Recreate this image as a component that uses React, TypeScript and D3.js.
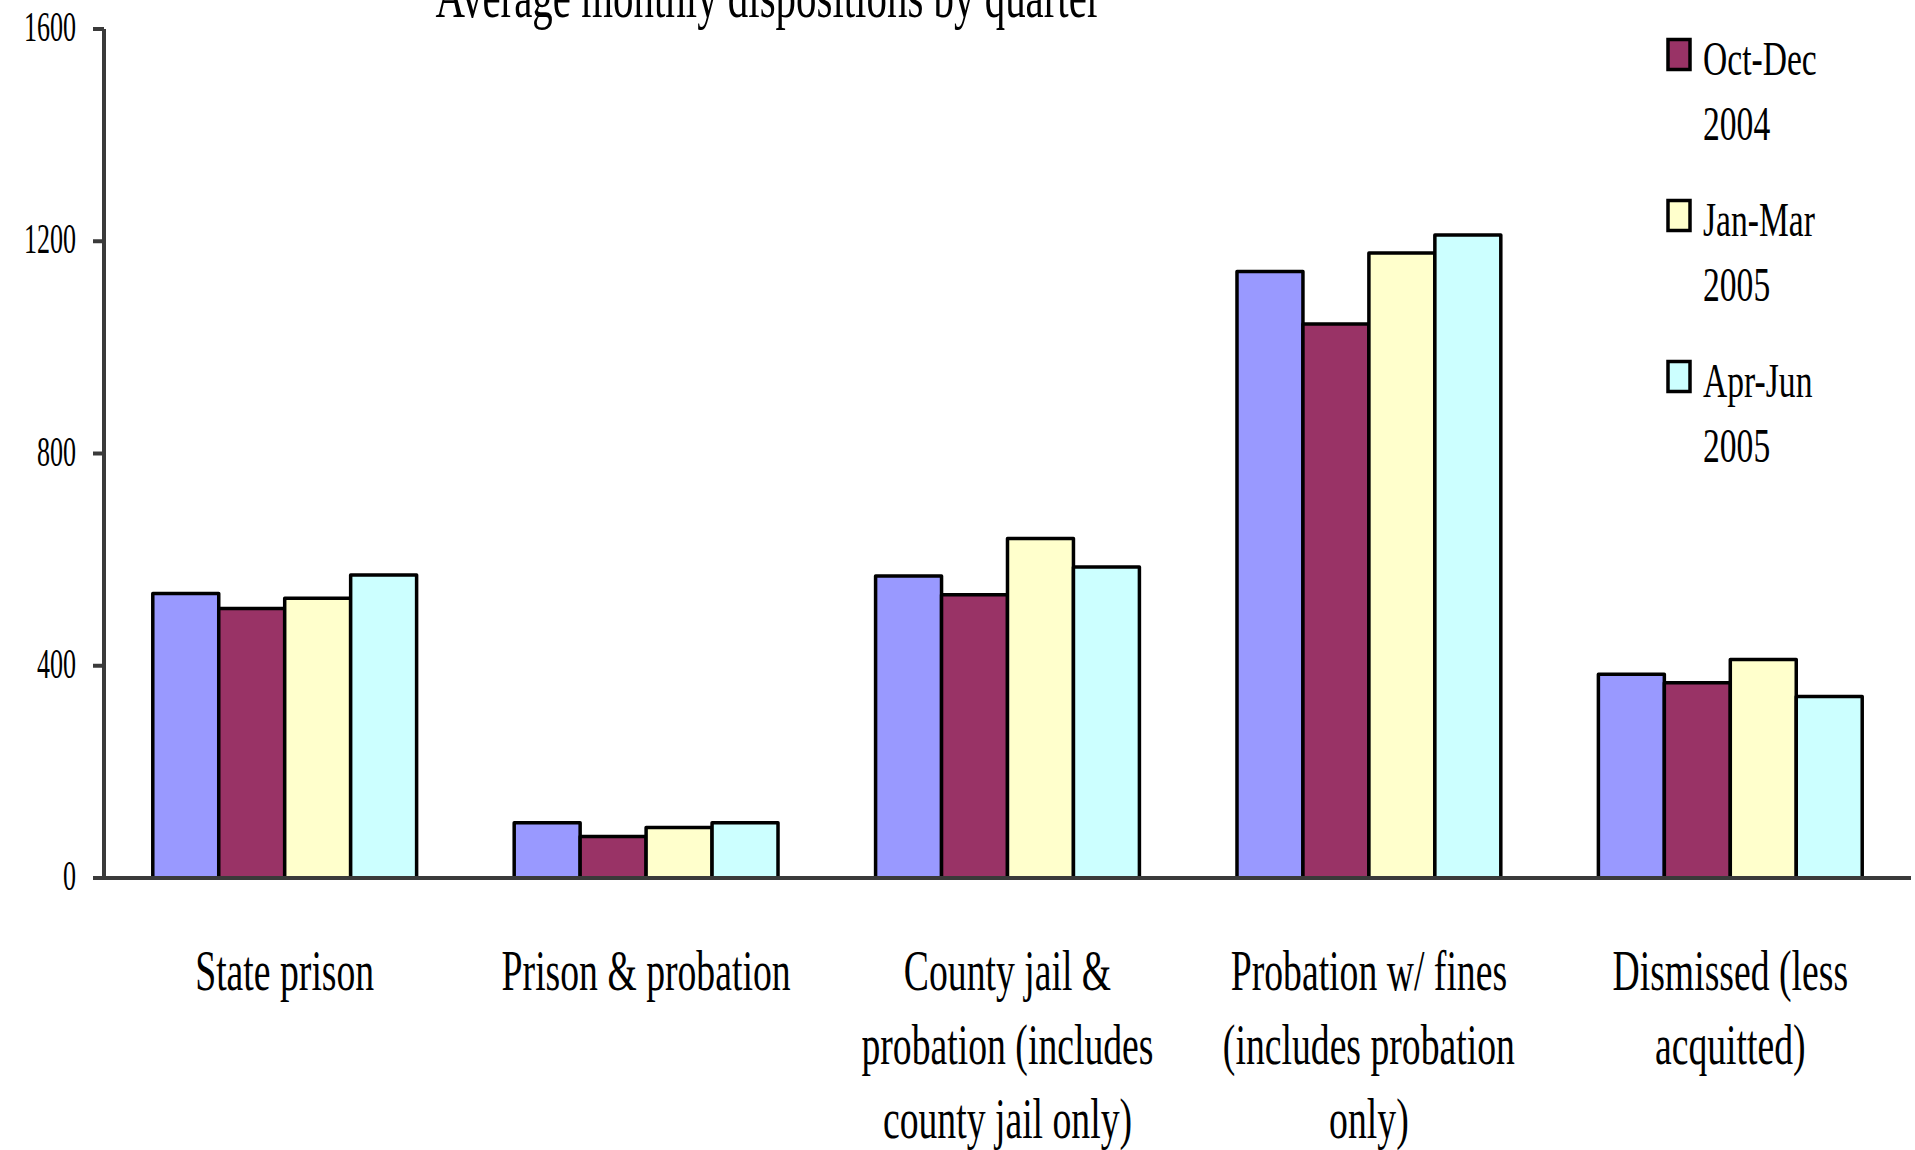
import React from 'react';
import * as d3 from 'd3';

// categories (each label split into its wrapped lines)
const categoryLines: string[][] = [
  ['State prison'],
  ['Prison & probation'],
  ['County jail &', 'probation (includes', 'county jail only)'],
  ['Probation w/ fines', '(includes probation', 'only)'],
  ['Dismissed (less', 'acquitted)'],
];
const categories = categoryLines.map(l => l.join(' '));

const seriesNames = ['Jul-Sep 2004', 'Oct-Dec 2004', 'Jan-Mar 2005', 'Apr-Jun 2005'];
const seriesColors = ['#9999FF', '#993366', '#FFFFCC', '#CCFFFF'];

const julSep2004 = [536, 104, 569, 1143, 384];
const octDec2004 = [508, 78, 534, 1044, 368];
const janMar2005 = [527, 95, 640, 1178, 412];
const aprJun2005 = [571, 104, 586, 1212, 342];
const seriesValues = [julSep2004, octDec2004, janMar2005, aprJun2005];

const yTicks = [0, 400, 800, 1200, 1600];
const title = 'Average monthly dispositions by quarter';

const W = 1915;
const H = 1150;
const FONT = '"Liberation Serif", "DejaVu Serif", serif';
const AXIS = '#3a3a3a';

const App: React.FC = () => {
  const left = 104;
  const right = 1911;
  const top = 29;
  const bottom = 878;

  const y = d3.scaleLinear().domain([0, 1600]).range([bottom, top]);
  const x0 = d3.scaleBand<string>()
    .domain(categories)
    .range([left, right])
    .paddingInner(0.27)
    .paddingOuter(0.135);
  const x1 = d3.scaleBand<string>()
    .domain(seriesNames)
    .range([0, x0.bandwidth()]);

  // legend layout; the first entry sits above the top edge in the original, so only
  // the entries that land inside the picture are drawn
  const legX = 1668;
  const legTop0 = 39.5;
  const legStep = 161;

  return (
    <svg width={W} height={H} style={{ position: 'absolute', left: 0, top: 0, background: '#fff' }}
      fontFamily={FONT}>
      {/* title (cut off at top in the original) */}
      <text transform={`translate(768,17) scale(0.66,1)`} textAnchor="middle" fontSize={62} fill="#000">
        {title}
      </text>

      {/* bars */}
      {categories.map((c, ci) => (
        <g key={c} transform={`translate(${x0(c)},0)`}>
          {seriesNames.map((s, si) => {
            const v = seriesValues[si][ci];
            return (
              <rect key={s}
                x={x1(s)}
                y={y(v)}
                width={x1.bandwidth()}
                height={y(0) - y(v)}
                fill={seriesColors[si]}
                stroke="#000"
                strokeWidth={3.5}
                strokeLinejoin="round" />
            );
          })}
        </g>
      ))}

      {/* y axis */}
      <line x1={left} x2={left} y1={top} y2={bottom} stroke={AXIS} strokeWidth={4} />
      {yTicks.map(t => (
        <g key={t}>
          <line x1={left - 11} x2={left} y1={y(t)} y2={y(t)} stroke={AXIS} strokeWidth={4} />
          <text transform={`translate(76,${y(t) + 12}) scale(0.62,1)`} textAnchor="end" fontSize={42} fill="#000">
            {t}
          </text>
        </g>
      ))}

      {/* x axis */}
      <line x1={left - 11} x2={right} y1={bottom} y2={bottom} stroke={AXIS} strokeWidth={4} />

      {/* category labels */}
      {categoryLines.map((lines, ci) => {
        const cx = (x0(categories[ci]) || 0) + x0.bandwidth() / 2;
        return lines.map((ln, li) => (
          <text key={`${ci}-${li}`} transform={`translate(${cx},${990 + li * 74}) scale(0.65,1)`}
            textAnchor="middle" fontSize={58} fill="#000">
            {ln}
          </text>
        ));
      })}

      {/* legend */}
      {seriesNames.map((s, si) => {
        const ty = legTop0 + (si - 1) * legStep;
        if (ty < 0) return null;
        const parts = s.split(' ');
        return (
          <g key={s}>
            <rect x={legX} y={ty} width={22} height={30} fill={seriesColors[si]} stroke="#000" strokeWidth={3.5} />
            {parts.map((p, pi) => (
              <text key={pi} transform={`translate(${legX + 35},${ty + 35 + pi * 65}) scale(0.7,1)`}
                fontSize={48} fill="#000">
                {p}
              </text>
            ))}
          </g>
        );
      })}
    </svg>
  );
};

export default App;
